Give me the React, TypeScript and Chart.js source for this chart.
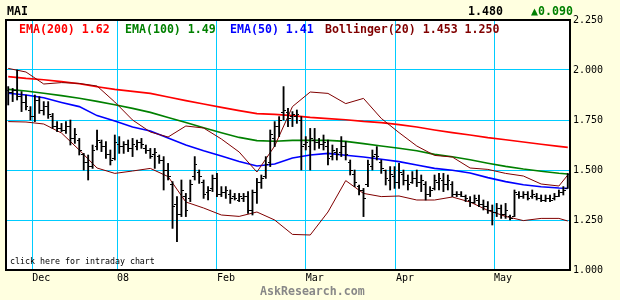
import React, { useEffect, useRef } from "react";
import { Chart, registerables } from "chart.js";
Chart.register(...registerables);

// ---- Data (bar index 0..126, daily OHLC) ----
const highs = [
  1.917, 1.908, 2.0, 1.892, 1.875, 1.817, 1.875, 1.867, 1.842, 1.842,
  1.783, 1.742, 1.733, 1.742, 1.75, 1.708, 1.658, 1.583, 1.575, 1.625,
  1.7, 1.65, 1.642, 1.6, 1.675, 1.667, 1.642, 1.65, 1.658, 1.65,
  1.658, 1.625, 1.608, 1.608, 1.575, 1.567, 1.533, 1.442, 1.367, 1.45,
  1.383, 1.45, 1.567, 1.5, 1.45, 1.417, 1.475, 1.483, 1.417, 1.417,
  1.4, 1.383, 1.383, 1.383, 1.392, 1.4, 1.458, 1.475, 1.567, 1.7,
  1.742, 1.767, 1.917, 1.808, 1.792, 1.8, 1.767, 1.667, 1.708, 1.708,
  1.658, 1.675, 1.65, 1.625, 1.608, 1.667, 1.642, 1.55, 1.5, 1.425,
  1.408, 1.55, 1.6, 1.617, 1.55, 1.5, 1.517, 1.517, 1.533, 1.5,
  1.475, 1.492, 1.5, 1.475, 1.442, 1.417, 1.475, 1.483, 1.483, 1.475,
  1.442, 1.392, 1.392, 1.375, 1.367, 1.375, 1.375, 1.35, 1.342, 1.325,
  1.333, 1.325, 1.333, 1.275, 1.4, 1.392, 1.392, 1.392, 1.4, 1.383,
  1.375, 1.375, 1.375, 1.383, 1.4, 1.417, 1.483,
];
const lows = [
  1.825, 1.842, 1.85, 1.792, 1.8, 1.75, 1.742, 1.783, 1.775, 1.758,
  1.708, 1.692, 1.692, 1.683, 1.625, 1.633, 1.575, 1.5, 1.45, 1.508,
  1.6, 1.592, 1.558, 1.525, 1.55, 1.583, 1.583, 1.592, 1.567, 1.6,
  1.608, 1.583, 1.558, 1.508, 1.533, 1.4, 1.45, 1.208, 1.142, 1.267,
  1.267, 1.342, 1.45, 1.433, 1.358, 1.35, 1.392, 1.367, 1.367, 1.358,
  1.333, 1.35, 1.342, 1.342, 1.283, 1.275, 1.333, 1.408, 1.458, 1.517,
  1.617, 1.667, 1.75, 1.717, 1.717, 1.733, 1.5, 1.6, 1.5, 1.6,
  1.608, 1.6, 1.525, 1.55, 1.55, 1.567, 1.55, 1.475, 1.417, 1.375,
  1.267, 1.417, 1.5, 1.55, 1.483, 1.425, 1.4, 1.408, 1.408, 1.425,
  1.4, 1.433, 1.417, 1.392, 1.35, 1.367, 1.4, 1.4, 1.392, 1.4,
  1.367, 1.367, 1.367, 1.342, 1.317, 1.333, 1.317, 1.3, 1.283, 1.225,
  1.267, 1.258, 1.258, 1.25, 1.267, 1.358, 1.358, 1.35, 1.358, 1.35,
  1.342, 1.342, 1.342, 1.35, 1.367, 1.375, 1.408,
];
const opens = [
  1.9, 1.89, 1.9, 1.87, 1.84, 1.8, 1.77, 1.85, 1.8, 1.82,
  1.77, 1.72, 1.71, 1.7, 1.72, 1.66, 1.65, 1.58, 1.54, 1.52,
  1.62, 1.64, 1.62, 1.58, 1.56, 1.63, 1.62, 1.63, 1.61, 1.62,
  1.64, 1.61, 1.6, 1.58, 1.57, 1.55, 1.5, 1.43, 1.33, 1.28,
  1.37, 1.36, 1.47, 1.49, 1.44, 1.39, 1.41, 1.46, 1.38, 1.39,
  1.38, 1.37, 1.35, 1.36, 1.37, 1.3, 1.39, 1.44, 1.47, 1.54,
  1.66, 1.72, 1.79, 1.79, 1.77, 1.77, 1.75, 1.63, 1.62, 1.65,
  1.64, 1.63, 1.62, 1.57, 1.59, 1.59, 1.62, 1.54, 1.48, 1.42,
  1.4, 1.43, 1.52, 1.58, 1.54, 1.5, 1.45, 1.47, 1.44, 1.48,
  1.45, 1.44, 1.46, 1.44, 1.43, 1.38, 1.41, 1.44, 1.45, 1.43,
  1.43, 1.38, 1.38, 1.37, 1.35, 1.34, 1.35, 1.33, 1.32, 1.3,
  1.29, 1.31, 1.28, 1.27, 1.27, 1.38, 1.37, 1.38, 1.37, 1.37,
  1.36, 1.35, 1.36, 1.36, 1.37, 1.39, 1.41,
];
const closes = [
  1.89, 1.9, 1.87, 1.84, 1.82, 1.77, 1.85, 1.8, 1.82, 1.78,
  1.72, 1.71, 1.7, 1.72, 1.66, 1.68, 1.6, 1.54, 1.52, 1.6,
  1.65, 1.62, 1.58, 1.55, 1.64, 1.62, 1.63, 1.61, 1.63, 1.64,
  1.63, 1.6, 1.57, 1.59, 1.55, 1.5, 1.47, 1.32, 1.28, 1.4,
  1.3, 1.43, 1.53, 1.47, 1.38, 1.4, 1.46, 1.38, 1.39, 1.4,
  1.36, 1.36, 1.37, 1.37, 1.3, 1.39, 1.44, 1.46, 1.53, 1.68,
  1.72, 1.75, 1.8, 1.76, 1.78, 1.78, 1.62, 1.64, 1.66, 1.64,
  1.63, 1.64, 1.56, 1.6, 1.58, 1.62, 1.58, 1.5, 1.44, 1.4,
  1.36, 1.53, 1.57, 1.57, 1.51, 1.46, 1.48, 1.44, 1.49, 1.45,
  1.43, 1.46, 1.44, 1.45, 1.38, 1.4, 1.45, 1.46, 1.43, 1.45,
  1.38, 1.38, 1.37, 1.36, 1.34, 1.36, 1.33, 1.32, 1.3, 1.29,
  1.31, 1.28, 1.3, 1.26, 1.39, 1.37, 1.38, 1.36, 1.38, 1.36,
  1.35, 1.36, 1.35, 1.37, 1.39, 1.4, 1.48,
];

// indicator lines, sampled at these bar indices
const lineIdx = [0, 4, 8, 12, 16, 20, 24, 28, 32, 36, 40, 44, 48, 52, 56, 60, 64, 68, 72, 76, 80, 84, 88, 92, 96, 100, 104, 108, 112, 116, 120, 124, 126];
const ema200 = [1.967, 1.958, 1.951, 1.942, 1.931, 1.916, 1.903, 1.893, 1.883, 1.865, 1.847, 1.83, 1.813, 1.797, 1.782, 1.778, 1.772, 1.763, 1.757, 1.751, 1.743, 1.737, 1.727, 1.715, 1.7, 1.687, 1.675, 1.662, 1.651, 1.64, 1.629, 1.618, 1.613];
const ema100 = [1.903, 1.895, 1.884, 1.872, 1.859, 1.843, 1.826, 1.808, 1.788, 1.763, 1.738, 1.711, 1.686, 1.663, 1.647, 1.644, 1.648, 1.649, 1.648, 1.643, 1.632, 1.62, 1.609, 1.596, 1.578, 1.566, 1.551, 1.534, 1.518, 1.505, 1.494, 1.484, 1.48];
const ema50 = [1.884, 1.875, 1.861, 1.838, 1.817, 1.772, 1.745, 1.715, 1.695, 1.66, 1.625, 1.596, 1.57, 1.542, 1.52, 1.53, 1.56, 1.575, 1.583, 1.574, 1.565, 1.554, 1.542, 1.525, 1.508, 1.499, 1.485, 1.462, 1.442, 1.426, 1.416, 1.41, 1.408];
const bollUpper = [2.008, 1.99, 1.93, 1.937, 1.933, 1.92, 1.84, 1.75, 1.69, 1.665, 1.72, 1.71, 1.655, 1.59, 1.49, 1.62, 1.817, 1.89, 1.883, 1.832, 1.858, 1.758, 1.687, 1.62, 1.573, 1.565, 1.51, 1.503, 1.483, 1.47, 1.43, 1.42, 1.475];
const bollLower = [1.742, 1.74, 1.73, 1.685, 1.6, 1.51, 1.483, 1.495, 1.508, 1.467, 1.34, 1.31, 1.275, 1.268, 1.29, 1.25, 1.178, 1.175, 1.29, 1.447, 1.383, 1.367, 1.37, 1.35, 1.35, 1.365, 1.34, 1.298, 1.268, 1.247, 1.258, 1.258, 1.245];

// axes
const monthTicks = [5.4, 24.5, 47, 67, 87.3, 109.4];
const monthLabels = ["Dec", "08", "Feb", "Mar", "Apr", "May"];
const yTickValues = [1.0, 1.25, 1.5, 1.75, 2.0, 2.25];

// header / legend texts
const symbolName = "MAI";
const lastPrice = "1.480";
const priceChange = "\u25B20.090";
const legendTexts = ["EMA(200) 1.62", "EMA(100) 1.49", "EMA(50) 1.41", "Bollinger(20) 1.453 1.250"];
const footerLink = "click here for intraday chart";
const siteName = "AskResearch.com";

const COLORS = { ema200: "#ff0000", ema100: "#008000", ema50: "#0000ff", boll: "#800000" };
const legendColors = [COLORS.ema200, COLORS.ema100, COLORS.ema50, COLORS.boll];
const MONO = '"DejaVu Sans Mono", monospace';

function tickImage(left: boolean) {
  const c = document.createElement("canvas");
  c.width = 5;
  c.height = 1;
  const g = c.getContext("2d")!;
  g.fillStyle = "#000";
  g.fillRect(left ? 0 : 3, 0, 2, 1);
  return c;
}

export default function App() {
  const ref = useRef<HTMLCanvasElement>(null);
  useEffect(() => {
    const canvas = ref.current!;
    const openImg = tickImage(true);
    const closeImg = tickImage(false);
    const line = (vals: number[], color: string, width: number) => ({
      type: "line" as const,
      data: vals.map((v, k) => ({ x: lineIdx[k], y: v })),
      borderColor: color,
      borderWidth: width,
      pointRadius: 0,
      tension: 0,
      fill: false,
    });

    const decor = {
      id: "decor",
      beforeDraw(chart: any) {
        const { ctx, chartArea: a, width, height } = chart;
        ctx.save();
        ctx.fillStyle = "#ffffe0";
        ctx.fillRect(0, 0, width, height);
        ctx.fillStyle = "#ffffff";
        ctx.fillRect(a.left, a.top, a.right - a.left, a.bottom - a.top);
        ctx.restore();
      },
      afterDraw(chart: any) {
        const { ctx, chartArea: a } = chart;
        ctx.save();
        ctx.strokeStyle = "#000";
        ctx.lineWidth = 2;
        ctx.strokeRect(a.left, a.top, a.right - a.left, a.bottom - a.top);
        ctx.textBaseline = "middle";
        ctx.font = `bold 11.6px ${MONO}`;
        ctx.fillStyle = "#000";
        ctx.textAlign = "left";
        ctx.fillText(symbolName, 7, 11.5);
        ctx.textAlign = "right";
        ctx.fillText(lastPrice, 503, 12);
        ctx.fillStyle = "#008000";
        ctx.fillText(priceChange, 573, 12);
        ctx.textAlign = "left";
        const lx = [19, 125, 230, 325];
        legendTexts.forEach((t, k) => {
          ctx.fillStyle = legendColors[k];
          ctx.fillText(t, lx[k], 30);
        });
        ctx.font = `8.3px ${MONO}`;
        ctx.fillStyle = "#000";
        ctx.fillText(footerLink, 10, 262);
        ctx.font = `bold 11.6px ${MONO}`;
        ctx.fillStyle = "#888888";
        ctx.fillText(siteName, 260, 292);
        ctx.restore();
      },
    };

    const chart = new Chart(canvas, {
      type: "bar",
      data: {
        datasets: [
          {
            type: "bar",
            data: highs.map((h, i) => ({ x: i, y: [lows[i], h] })) as any,
            backgroundColor: "#000",
            barThickness: 1.2,
            grouped: false,
          } as any,
          {
            type: "line",
            data: opens.map((o, i) => ({ x: i, y: o })),
            showLine: false,
            pointStyle: openImg as any,
            pointRadius: 3,
          },
          {
            type: "line",
            data: closes.map((c, i) => ({ x: i, y: c })),
            showLine: false,
            pointStyle: closeImg as any,
            pointRadius: 3,
          },
          line(bollUpper, COLORS.boll, 1),
          line(bollLower, COLORS.boll, 1),
          line(ema200, COLORS.ema200, 1.6),
          line(ema100, COLORS.ema100, 1.6),
          line(ema50, COLORS.ema50, 1.6),
        ],
      },
      plugins: [decor],
      options: {
        responsive: false,
        animation: false,
        events: [],
        layout: { padding: { left: 6, top: 20, right: 0, bottom: 0 } },
        plugins: { legend: { display: false }, tooltip: { enabled: false }, title: { display: false } },
        scales: {
          x: {
            type: "linear",
            min: -0.5,
            max: 126.5,
            offset: false,
            grid: { color: "#00ccff", lineWidth: 1, drawTicks: false, offset: false },
            border: { display: false },
            afterBuildTicks: (s: any) => {
              s.ticks = monthTicks.map((v) => ({ value: v }));
            },
            afterFit: (s: any) => {
              s.height = 30;
            },
            ticks: {
              autoSkip: false,
              maxRotation: 0,
              align: "start",
              padding: 2,
              color: "#000",
              font: { family: MONO, size: 10 },
              callback: (_v: any, i: number) => monthLabels[i],
            },
          },
          y: {
            type: "linear",
            position: "right",
            min: 1.0,
            max: 2.25,
            grid: { color: "#00ccff", lineWidth: 1, drawTicks: false },
            border: { display: false },
            afterBuildTicks: (s: any) => {
              s.ticks = yTickValues.map((v) => ({ value: v }));
            },
            afterFit: (s: any) => {
              s.width = 50;
            },
            ticks: {
              padding: 3,
              color: "#000",
              font: { family: MONO, size: 10 },
              callback: (v: any) => Number(v).toFixed(3),
            },
          },
        },
      } as any,
    });
    return () => chart.destroy();
  }, []);
  return (
    <div style={{ position: "absolute", left: 0, top: 0, width: 620, height: 300 }}>
      <canvas ref={ref} width={620} height={300} style={{ display: "block" }} />
    </div>
  );
}
